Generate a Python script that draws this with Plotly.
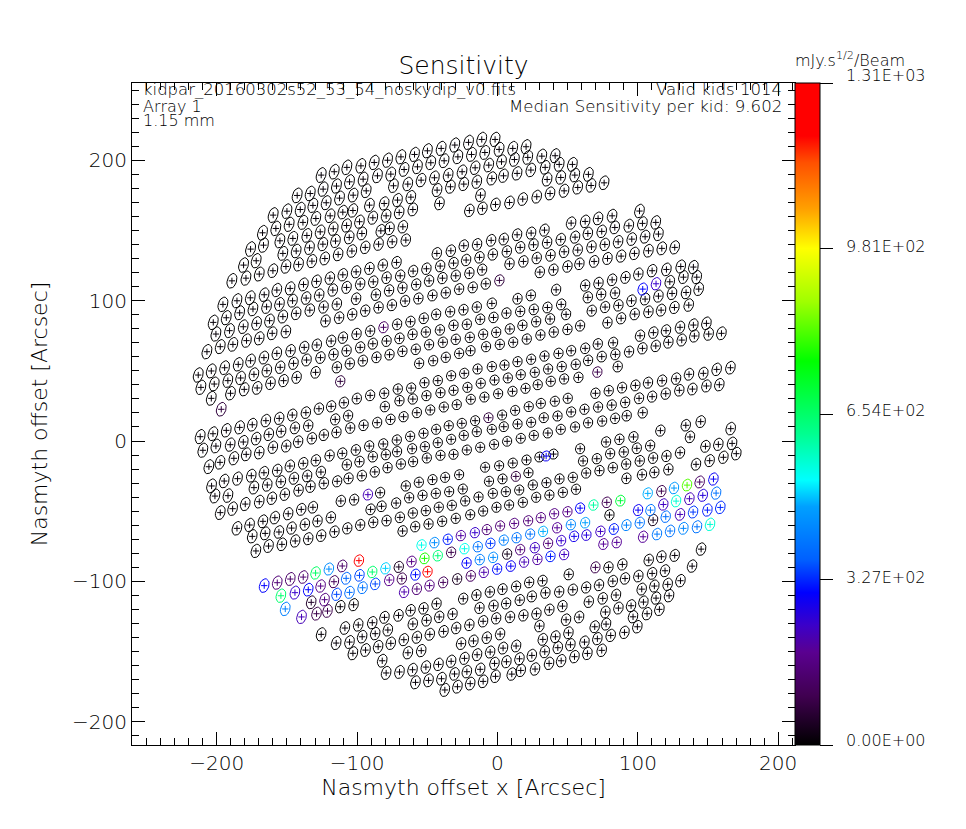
import plotly.graph_objects as go
from plotly.colors import sample_colorscale
import numpy as np

FONT = "DejaVu Sans Light, DejaVu Sans ExtraLight, DejaVu Sans"
SENS_MAX = 1310.0
colorbar_labels = ["0.00E+00", "3.27E+02", "6.54E+02", "9.81E+02", "1.31E+03"]
colorbar_ticks = [0, 327.5, 655, 982.5, 1310]

colorscale = [[0, "#000000"], [0.074, "#400050"], [0.14, "#5a0090"], [0.18, "#3c00c8"], [0.23, "#0000ff"],
              [0.28, "#0060ff"], [0.36, "#00a0ff"], [0.40, "#00ffff"], [0.47, "#00ff90"], [0.58, "#00ff00"],
              [0.67, "#a0ff00"], [0.75, "#ffff00"], [0.81, "#ffa000"], [0.88, "#ff5000"], [0.92, "#ff0000"], [1, "#ff0000"]]

# kids that read as black on the map (offset x, offset y in arcsec)
black_upper = [
(-125.6,189.4),(-116.3,191.8),(-107.3,194.9),(-97.3,196),(-87.8,198.4),(-78.3,200),(-68.8,202.4),(-59.1,204.1),(-49.9,206.7),(-40.1,208.4),(-30.4,210.8),(-20.6,212.7),(-11.2,214.8),(-1.7,214.8),
(1.2,207.7),(10.9,208.4),(20.4,209.6),(31.6,202.9),(41.1,203.2),(53.4,197),(2.9,198.9),(12.1,200.5),(21.6,202),(34,194.9),(44,197),(4.3,188.9),(14,190.6),(23.8,193),(-4,187),(35.4,186.3),(45.1,187.7),(55.1,189.4),(64.8,189.9),(76,183.9),(66.7,182),(57.2,180.6),(47.5,178.2),(37.5,176.3),(28,174),(18,172.3),(8.6,169.9),(-1.4,168.5),
(101.2,163.8),(81.7,160.4),(71.7,158.5),(62.5,156.4),(52.5,155.2),(112.8,155.7),(103.3,155),(93.6,153.3),(83.6,152.1),(74.3,149.3),(64.4,147.8),(55.3,145.2),(45.1,143.6),(33.5,150.2),(24,148.1),(14,146.9),(4.5,143.8),(-4.5,142.9),
(114.7,147.4),(105.2,145.5),(95.7,143.8),(86,141.9),(76.5,140),(67,138.3),(57.2,136),(47.5,134.8),(35.4,141.4),(25.7,139.8),(16.2,137.9),(6.7,135),(-3.3,132.9),
(126.3,137.9),(117.1,137.2),(107.6,135.5),(97.6,133.6),(88.1,131.7),(78.4,130),(68.9,127.9),(58.4,126.2),(49.9,124.3),(37.8,132.2),(28,130.3),(18.5,127.9),(8.6,126.2),(39.9,122),(30.2,120.3),
(139.6,123.9),(130.6,124.3),(120.4,122.2),(110.2,121.3),(100.4,118.9),(91.2,116.5),(81.7,114.8),(72,112.5),(62.5,110.8),(142,116.7),(132.5,116.7),(122.8,113.4),
(143.4,108.2),(134.4,105.8),(124.4,105.1),(114.7,103.2),(105.2,101.1),(95.5,99.9),(83.8,105.4),(73.9,104.4),(64.4,102.3),(136.3,96.8),(126.1,95.1),(116.6,93.2),(107.6,92),(97.8,90.4),(86.2,96.6),(76.7,95.4),(67.2,92.8),(41.8,107.7),(23.8,103.7),(14.3,101.3),(45.4,97.3),(35.6,95.1),(25.9,93.7),(16.2,92.3),(6.4,91.1),(-4,98),(48.9,90.2),
]
black_right_mid = [
(148.9,83.8),(139.6,82.6),(130.1,81),(120.1,78.6),(111.1,77.2),(101.6,75),(159.6,76.7),(150.5,76.2),(140.3,74.8),(131.3,71.9),(121.8,70.3),(112.8,67.7),(103.3,66),(93.8,63.6),(82.4,70),(71.5,69.1),(62.5,66),(52.5,64.3),(43.5,62.4),(33.5,60.5),(24,58.2),(14.3,56.5),(5,54.1),(-4,53),
(78.4,84.3),(88.1,87.4),(58.9,82.1),(49.9,79.5),(40.1,77.6),(30.6,75.5),(20.9,72.6),(11.2,70.3),(1.7,68.8),(37.5,86.9),(27.6,85),(17.8,82.4),(8.8,79.8),(-0.9,77.4),
(84,61.7),(74.3,60.1),(64.6,57.4),(55.8,54.6),(45.8,53),(36.1,51.3),(26.6,48.9),(16.6,47.2),(7.4,44.9),(-2.1,43.4),(85.7,53),(57.7,45.3),(47.5,44.2),(38,42.5),(28.7,40.1),(20,37.5),(10.7,35.4),(0.5,33.7),
(166,52.2),(156.2,51),(146.7,48.2),(136.5,47.5),(127.3,44.4),(117.3,43),(107.3,41.5),(98.3,39.6),(88.8,38),(79.3,35.8),(69.8,34),
(158.1,40.1),(148.9,39.2),(138.9,37),(129.6,36.1),(119.9,33.7),(110.2,31.6),(100.9,30.4),(91,27.5),(81.4,25.6),(71.7,24.2),(62,22.6),(52.5,20.7),(42.8,17.8),(33,16.6),(24,13.3),(14.3,12.1),(4.5,10.2),(-4,8.3),
(50.1,30.4),(40.9,28.3),(30.9,26.8),(22.3,24.5),(12.6,21.8),(3.3,18.5),
(103.5,20.2),(92.1,18),(83.8,16.1),(74.6,14.2),(64.6,13),(55.3,10),(45.1,8.3),(35.9,5.7),(25.9,4),(16.6,1.9),(6.9,-0.2),(-2.4,-2.4),
(144.8,13.8),(134.2,11.2),(116.1,7.4),(166.2,8.8),(137.2,2.9),(96.9,2.9),(86.9,1.2),(77.4,-0.7),(58.9,-5.5),
(167.2,-1.7),(157.4,-2.4),(148.2,-3.8),(108.8,-3.3),(99.3,-5.2),(90,-7.8),(80.3,-9),(70.8,-12.6),(61,-14.2),(39.9,-9.3),(29.9,-11.4),(20.7,-13.5),(10.9,-15.7),(1.2,-17.6),
(170.2,-9),(161,-11.6),(151.2,-14),(141.5,-16.6),(130.1,-8.3),(120.4,-10.7),(110.9,-12.1),(101.4,-14.2),(91.7,-16.4),(82.2,-19),(72.7,-21.1),(63.2,-22.8),(53.7,-25.9),(44.2,-27),(34.9,-29.7),(25.2,-31.3),(15.5,-34.9),(6,-36.1),(-3.3,-37.3),(3.6,-27),(22.1,-22.6),
(121.8,-20.2),(111.8,-22.3),(103,-24),(91.9,-26.6),(56,-34.4),(46.6,-36.6),(37,-38.5),(27.6,-40.1),(18.1,-43.7),(8.3,-45.6),(-2.8,88),
]
black_upper_left = [
(-142.7,174.9),(-133.4,176.3),(-124.2,179.4),(-114.7,181.6),(-105.4,184.6),(-95.7,186.5),(-85.5,188.9),(-76,190.1),(-66.5,193.4),(-57,195.3),(-47.5,198.2),(-38,199.6),(-28.2,202.4),(-18.5,204.1),(-9,205.5),
(-74.1,181.8),(-63.9,183),(-54.4,185.8),(-44.9,187.5),(-35.1,189.4),(-25.2,191.8),(-15.9,194.6),(-6.2,196.5),(-43,178.7),(-33.5,181.1),(-24,183),(-14.7,184.6),(-41.3,169.2),(-12.1,175.1),(-20,164.2),(-10.7,165.7),
(-159.8,160.9),(-150,163.7),(-140.5,164.9),(-131.5,167.8),(-122,169.7),(-112.5,173),(-102.8,175.1),(-93.5,178.2),(-91.2,168),(-80.7,169.2),(-71.2,171.6),(-61.7,173.7),
(-167.4,148.3),(-157.9,151.4),(-148.4,154.3),(-138.6,155.7),(-129.4,158.5),(-119.2,160.4),(-110.2,163),(-103,164.2),
(-175.9,136.7),(-166.7,139.5),(-155,142.6),(-145.8,144.3),(-135.8,146.4),(-126.3,149),(-117,151.2),(-107.5,153.5),(-98.3,156.2),(-88.8,159),(-79.3,160.4),(-70,162.8),(-60.3,164.9),
(-152.9,133.6),(-143.4,135.3),(-133.9,137.6),(-124.4,140.2),(-115.4,142.4),(-105.6,145),(-96.6,147.8),(-83.1,149.7),(-76.9,151.4),(-67.4,152.6),
(-189.2,114.1),(-179.2,116),(-169.7,118.9),(-160,121.3),(-150.7,124.3),(-141.7,125.8),(-132.2,128.1),(-123,130),(-113.5,132.9),(-103.7,135.3),(-94.2,137.9),(-84.7,140.2),(-75,141.9),(-65.3,143.1),(-180.9,125.3),(-171.9,128.4),
(-43.2,133.6),(-33.2,135.5),(-24,139.1),(-14.5,140),(-12.8,130.8),(-22.3,128.9),(-31.3,126.7),(-40.8,124.6),(-50.6,122.7),(-60.1,121),(-71.9,127.2),(-81.7,125.3),(-91.2,122.9),(-100.7,120.5),(-110.2,118.4),(-119.4,116),(-128.9,113.7),(-138.2,111.5),(-147.7,108.7),(-157.2,107.5),(-166.2,104.2),(-176.1,102),(-185.6,99.9),(-195.6,97.3),
(-10.9,122),(-20,119.6),(-29.7,117.7),(-39.2,116),(-48.7,114.1),(-57.9,111.5),(-67.7,109.1),(-77.2,107.2),(-86.6,104.2),(-69.3,117.7),(-79,116.3),(-88.5,113.4),(-97.8,111.8),(-107.5,109.4),(-117.3,107.5),(-127,103.9),(-136.3,101.8),(-146,99.9),(-155.3,97.5),(-164.5,95.6),(-174.2,94),(-183.7,91.3),
(-8.3,112),(-17.6,109.4),(-27.3,108.2),(-36.8,105.6),(-46.3,103.7),(-56.3,101.5),(-65.8,99.7),(-75.2,96.8),(-84.7,95.1),(-94.2,92.8),(-100.7,101.3),(-114.4,97.5),(-123.9,95.4),(-133.7,93.2),(-143.4,90.9),(-14.7,95.4),(-24.2,93.5),(-33.7,92.1),(-43.7,90.2),
]
black_left_mid = [
(-202.5,84.5),(-193.2,87.8),(-162.4,85.7),(-152.9,88.6),(-122.5,85.5),(-112.8,87.8),(-103.5,90.2),(-200.6,76.2),(-190.9,78.6),(-181.1,81.4),(-171.6,83.8),(-71.5,83.1),(-62,85),(-52.5,87.4),
(-160.5,76.7),(-150.7,77.9),(-169.7,73.1),(-178.8,71.5),(-188.5,68.8),(-197.5,67.2),(-207,63.6),
(-100.4,76.2),(-90.7,78.3),(-110.1,73.6),(-118.5,71.2),(-128.7,68.4),(-137.7,66.7),(-147.4,64.3),(-157.2,62.4),(-166.4,59.4),(-175.9,57.2),(-184.7,54.6),(-194.4,52.2),(-203.9,49.9),(-213.2,47),
(-12.3,86.7),(-21.8,83.1),(-31.3,82.4),(-41,79.1),(-51,77.6),(-60.5,76),(-10.2,76),(-19.7,73.8),(-29.7,72.4),
(-69.8,73.1),(-79,71.2),(-88.8,69.3),(-97.8,66.7),(-107.5,64.3),(-116.8,61.7),(-126.1,59.4),(-136,57.7),(-145.3,55.3),(-154.8,52.5),(-164.3,50.1),(-173.5,47.5),(-183,44.9),(-192.1,43),(-201.8,40.6),(-211.3,38.2),
(-38.9,70.3),(-48.7,68.6),(-58.2,65.3),(-67.7,63.9),(-76.9,61.5),(-86.2,59.6),(-95.9,57.2),(-105.2,55.1),(-114.4,52.5),(-129.6,48.9),(-143.1,45.3),(-152.4,43),(-161.7,41.1),(-171.2,37.8),(-180.4,36.8),(-190.2,34),(-203.9,30.4),
(-8.1,67.2),(-19.2,64.3),(-27.3,62.4),(-36.8,59.6),(-45.8,57.2),(-55.8,55.3),(-14.2,51.3),(-23.7,48.2),(-33,46.5),(-42.5,43),(-52,41.5),(-61.5,37.7),(-71,37),(-80.7,34),(-90.7,32.5),(-100.2,30.2),(-109.4,27.3),(-118.5,24.7),(-127.2,23),(-136.5,20.2),(-146.2,18.5),(-155.5,16.1),(-165,14.5),(-174.7,11.6),(-183.7,9.7),(-193.2,7.6),(-202.7,5.2),(-211.8,3.1),
(-11.9,41.1),(-21.4,38.2),(-31.3,36.1),(-40.6,34.4),(-50.6,32.3),(-60.3,29.9),(-69.8,28.7),(-80.2,24.5),(-106.4,18),(-115.6,15.4),(-19,29.7),(-9.3,31.3),
(-29,25.9),(-38.2,24.2),(-47.9,22.1),(-57.4,20.2),(-66.9,17.3),(-76.2,15.4),(-85.7,13.1),(-95.4,11.2),(-104.9,9.3),(-114.7,6.2),(-123.7,4.3),(-132.2,1.9),(-142,-0.5),(-150.5,-3.6),(-160,-4.5),(-169.7,-8.3),(-179,-9.5),(-187.8,-12.3),(-197.7,-15.2),(-205.6,-18.3),
(-134.8,10.9),(-144.3,9.3),(-154.1,6.9),(-162.9,4.7),(-171.9,1.7),(-181.1,-0.7),(-190.4,-2.6),(-200.6,-3.6),(-209.9,-6.6),
(-15.9,14.5),(-25.4,12.6),(-34.7,10.9),(-43.7,8.3),(-52.7,5.5),(-62.2,3.3),(-71.7,0.7),(-81.4,-2.1),(-91.4,-3.6),(-100.9,-6.4),(-110.6,-8.8),(-119.6,-10.4),(-129.4,-13.8),(-138.4,-15.9),(-147.9,-17.8),(-156.9,-20.9),(-166.4,-22.6),(-175.4,-24.7),(-185.2,-26.8),(-194.7,-28.5),(-203.7,-32),
(-14.7,6.6),(-24,4),(-33,1.2),(-42.5,-1.2),(-51.7,-4),(-60.8,-5.5),(-71.5,-7.6),(-79.5,-9.7),(-88.8,-11.2),(-98.3,-14.7),(-107.3,-16.9),(-125.8,-22.1),(-135.6,-24.9),(-145,-26.6),(-154.3,-29),(-164,-31.3),(-173.5,-33.2),
(-12.3,-4.5),(-21.8,-6.4),(-31.3,-9.5),(-40.6,-10.2),(-50.3,-12.1),(-60.1,-14.7),(-68.8,-16.4),(-78.3,-19),(-87.4,-22),(-96.6,-24.7),(-106.1,-26.6),(-114.2,-28.7),(-123.7,-30.1),(-133.2,-32.5),(-141.7,-35.1),(-151.5,-38),(-160.7,-40.8),
(-8.8,-18.7),(-27.3,-24),(-37.3,-25.9),(-46.3,-27.5),(-56,-29.4),(-65.3,-32),(-83.6,-36.8),(-24.7,-34.2),(-34.4,-36.1),(-43.9,-37.3),(-53.4,-38.7),(-62.9,-40.4),(-13.5,-39.9),(-6,-28.7),
]
black_lower_left = [
(-192,-38.9),(-188.7,-48.2),(-179.7,-44.9),(-169.7,-43.2),(-201.3,-39.2),(-197.5,-51),(-111.6,-42.7),(-102.1,-41.8),(-90.4,-48.7),(-82.6,-46.5),(-72.2,-44.2),(-23,-42.7),
(-185.6,-62.2),(-176.6,-59.8),(-167.1,-57.2),(-158.6,-54.6),(-149.1,-51.8),(-139.8,-48.7),(-131.5,-47.2),(-118.7,-54.4),(-128.2,-57),(-137.2,-59.4),(-146.7,-62),(-155.7,-64.8),(-165.5,-65.8),(-174.7,-67.9),
(-172.1,-78.3),(-163.1,-74.8),(-153.6,-73.6),(-144.1,-71.2),(-134.8,-69.6),(-125.6,-67.4),(-116.1,-64.6),(-107,-62.2),(-97.8,-59.8),(-88.5,-57.9),(-79,-56.7),(-69.5,-54.4),(-60.3,-51.3),(-51,-49.6),(-41.8,-47.2),(-32.5,-45.8),
(-67.6,-64.1),(-58.6,-61),(-49.1,-59.1),(-39.4,-57.2),(-29.7,-55.1),(-19.4,-52.5),(-10.2,-49.9),(-0.7,-47.2),
(-112,-118),(-102.5,-116.6),
(-24.4,-112.3),(-15,-109.7),(-5.4,-107.5),(-43.4,-115.9),(-52.7,-119.2),(-61.9,-120.6),(-70.5,-124.2),(-80.5,-125.6),(-89.2,-129.4),(-99.2,-131),(-108.7,-133.2),(-125.6,-137.7),(-78.1,-134.6),(-87.1,-137.2),(-96.4,-139.4),(-105.4,-143.2),(-114.9,-143.9),
(-60.3,-130.3),(-50.5,-127.7),(-41.5,-125.3),(-32,-123.2),(-20,-131),(-29.4,-133.2),(-38.4,-135.6),(-48.2,-137.7),(-57.4,-139.8),(-66.7,-141.5),(-76,-144.1),(-85,-146.5),(-94,-148.9),(-103,-151.2),
(-12.8,-118.9),(-2.8,-117.3),(-0.9,-126.3),(-10.2,-128.4),(-7.6,-140.1),(-17.1,-142.4),(-25.9,-144.3),(-54.3,-149.3),(-63.8,-150.8),(-82.1,-156.5),(-79.3,-165.2),(-69.8,-164.5),(-60.5,-162.9),(-51,-161),(-42,-159.1),(-33,-156.9),(-23.5,-154.8),(-14.5,-152.2),(-5.2,-150.3),(-2.1,-158.4),(-1.4,-167.6),(-12.3,-162.6),(-21.8,-164.3),(-30.6,-165.9),(-39.9,-169.3),(-49.1,-170.5),(-58.4,-171.9),(-10.2,-171.2),(-19.4,-172.8),(-28.5,-175),(-37.5,-177.3),
]
black_lower_right = [
(79.8,-52.7),(145.1,-77),(126.3,-81.5),(116.8,-82.4),(107.8,-84.8),(138.7,-89.1),(89,-87.9),(79.1,-90),(50.8,-95),(119.4,-92.4),(110.2,-94.3),(100.4,-96.2),(90.9,-97.9),(82.2,-99.8),(130.4,-99.5),(121.3,-102.1),(111.8,-103.3),(102.8,-105.5),(72.4,-102.6),(63.2,-104.3),(53.7,-105.9),(44,-107.4),(34.2,-108.1),(24.5,-110.7),(13.3,-103.6),(3.6,-105.5),(22.6,-100.7),(32.1,-99.5),
(122.3,-110.2),(113,-111.9),(104,-114.7),(84.5,-109.7),(75,-112.1),(65.1,-114.5),(46.3,-117.6),(37,-120.2),(27.8,-123),(18.5,-124.2),(9,-125.4),(15.9,-113.3),(6.2,-115.7),
(115.4,-119.9),(106.6,-123),(96.6,-125.2),(95.2,-117.3),(86.2,-119),(76.9,-121.8),(58.2,-125.4),(48.9,-127.3),(77.4,-130.4),(69.3,-132.3),(99.7,-132.3),(90.5,-136.3),(80.7,-138.5),(71.2,-140.8),(62,-143.2),(52,-145.1),(41.3,-139.4),(32.3,-141.3),(50.6,-136.6),(29.9,-131.8),(1.9,-137.5),
(13.3,-146),(4,-147.5),(43,-147.2),(33.7,-150.1),(24.5,-152.7),(15.7,-155.1),(6.4,-157.2),(74.3,-149.1),(64.1,-151.3),(54.9,-153.6),(45.4,-156.5),(36.8,-158.4),(26.8,-162.4),(16.6,-163.4),(10.2,-166),
]
black_sens = 9.602  # median sensitivity per kid

# kids with a visible colour: offset x, offset y, sensitivity
color_x = [1.4,-81.2,113,103.5,-196.8,-112,71.2,-6.4,13.1,34.7,-92.3,
-166.2,-156.9,-147.6,-138.4,-129.6,-120.1,-110.6,-98.7,-89.2,-79.8,-70.3,-61.2,-52,-42.5,-33,-23.5,-14,-5,-54.1,-44.9,-35.4,-26.1,-16.1,-7.6,1.9,
-154.3,-144.3,-134.8,-126,-116.5,-107.8,-98.3,-87.1,-96.1,-105.4,-114.6,-123.2,-132.7,-151.2,-139.6,-128.9,-121.1,
-77.1,-68.1,-58.4,-49.8,-66.5,-57.4,-48.4,-38.7,-28.7,-19,-9.7,-0.2,-22,-12.6,-3.1,
58.9,68.4,77.9,87.6,49.9,40.4,30.9,21.9,11.9,100.2,109,118.2,127.3,136.8,146.3,155.8,107.1,116.8,125.8,135.1,144.1,153.9,
158.8,149.6,139.4,130.1,119.9,110.9,101.4,91.9,82.9,73.4,62.5,52.3,42.5,32.5,23.3,13.6,4.5,
151.5,142.2,132.5,123,113.7,103.8,63.4,54.6,45.4,36.1,26.6,16.2,6.9,85,75.5,47.5,37.8,28.5,19,9.5,69.8]
color_y = [114.4,81,112,108.2,22.6,42.5,49.1,16.6,-25.2,-10.7,-38.2,
-103,-100.9,-98.3,-96.9,-94,-91.2,-89,-85.2,-93.3,-90.7,-89.7,-85.9,-83.6,-81.7,-79.3,-76.7,-75.3,-72.9,-74.1,-72.4,-70,-67.4,-65.3,-63.1,-60.5,
-110.2,-108,-105.9,-103.3,-100.2,-97.8,-95.7,-101.8,-104.5,-107.8,-109.2,-113,-114.9,-119.6,-125.3,-123,-121.1,
-99,-98,-95.2,-93.1,-107.5,-105.4,-103,-100.7,-98.3,-96.1,-93.5,-91.2,-86.9,-84.5,-82.9,
-47.8,-45.6,-43.7,-42.5,-50.4,-51.8,-54.6,-56.8,-58.7,-49.2,-49.2,-45.2,-42.8,-41.1,-38.7,-37.1,-37.3,-35.7,-33.5,-31.4,-29.2,-27.1,
-47.3,-49.2,-50.6,-52.3,-53.9,-56.3,-58.2,-59.9,-62.7,-64.4,-58.2,-59.6,-61.8,-64.4,-66.3,-68.9,-70.6,
-59.4,-61.1,-62.2,-64.1,-66.3,-68.2,-67,-67.9,-71,-72.9,-76,-77.4,-80.5,-72.2,-73.4,-80.8,-82.2,-84.3,-86.2,-89.1,-90]
color_sens = [70,120,240,300,70,70,90,70,70,290,220,
300,150,130,140,660,440,130,1250,650,500,40,170,780,640,90,540,400,340,540,440,320,200,240,150,150,
650,240,300,170,110,380,350,350,400,390,350,160,50,420,220,90,90,
180,90,310,1280,210,150,160,110,40,120,210,310,300,420,440,
300,600,100,700,170,170,160,150,160,290,400,230,560,220,260,400,480,90,460,820,120,290,
330,320,340,220,390,30,400,420,320,230,470,430,190,480,400,400,420,
560,400,430,400,410,190,260,280,240,150,230,150,30,190,190,230,320,200,220,290,90]

black = black_upper + black_right_mid + black_upper_left + black_left_mid + black_lower_left + black_lower_right
black_x = [p[0] for p in black]
black_y = [p[1] for p in black]

kid_x = np.array(black_x + color_x, float)
kid_y = np.array(black_y + color_y, float)
kid_sens = np.array([black_sens] * len(black_x) + color_sens, float)

# ellipse outline of a kid's beam: style constants, elongating with the distance from the centre
THETA = np.linspace(0, 2 * np.pi, 21)
TILT = np.radians(18)

def outlines(xs, ys):
    ox, oy = [], []
    for x0, y0 in zip(xs, ys):
        r = np.hypot(x0, y0) / 200
        major, minor = 3.6 + 1.5 * r ** 2, 3.3
        u, v = minor * np.cos(THETA), major * np.sin(THETA)
        ox += list(x0 + u * np.cos(TILT) + v * np.sin(TILT)) + [None]
        oy += list(y0 - u * np.sin(TILT) + v * np.cos(TILT)) + [None]
    return ox, oy

fig = go.Figure()
for s in sorted(set(kid_sens)):
    mask = kid_sens == s
    ox, oy = outlines(kid_x[mask], kid_y[mask])
    col = sample_colorscale(colorscale, [s / SENS_MAX])[0] if s > black_sens else "#000000"
    fig.add_trace(go.Scatter(x=ox, y=oy, mode="lines", line=dict(color=col, width=1), hoverinfo="skip", showlegend=False))

fig.add_trace(go.Scatter(
    x=kid_x, y=kid_y, mode="markers", showlegend=False,
    marker=dict(symbol="cross-thin-open", size=4.5, color=kid_sens, cmin=0, cmax=SENS_MAX,
                colorscale=colorscale, line=dict(width=1),
                colorbar=dict(x=1.0, xanchor="left", xpad=0, ypad=0, y=0.5, yanchor="middle", len=1, lenmode="fraction",
                              thickness=25, thicknessmode="pixels", outlinecolor="#000", outlinewidth=1,
                              tickmode="array", tickvals=colorbar_ticks, ticks="outside", ticklen=13,
                              tickcolor="#000", tickwidth=1, showticklabels=False))))

axis_common = dict(showgrid=False, zeroline=False, showline=True, linecolor="#000", linewidth=1, mirror="ticks",
                   ticks="inside", ticklen=13, tickwidth=1, tickcolor="#000", dtick=100,
                   minor=dict(ticks="inside", ticklen=7, dtick=10, tickwidth=1, tickcolor="#000", showgrid=False),
                   tickfont=dict(family=FONT, size=20, color="#000"))

# the page's own 8 px body margin is taken out of the left and top margins
fig.update_layout(
    width=966, height=829, autosize=False, plot_bgcolor="#fff", paper_bgcolor="#fff",
    margin=dict(l=124, r=179, t=75, b=92),
    title=dict(text="Sensitivity", x=0.5, xref="paper", xanchor="center", y=0.931, yanchor="middle",
               font=dict(family=FONT, size=25, color="#000")),
    xaxis=dict(axis_common, range=[-260.4, 212],
               title=dict(text="Nasmyth offset x [Arcsec]", font=dict(family=FONT, size=22, color="#000"), standoff=0)),
    yaxis=dict(axis_common, range=[-216.5, 255],
               title=dict(text="Nasmyth offset [Arcsec]", font=dict(family=FONT, size=22, color="#000"), standoff=18)),
)

def note(text, x, y, anchor="left", size=16):
    fig.add_annotation(text=text, x=x, y=y, xref="paper", yref="paper", xanchor=anchor, yanchor="middle",
                       showarrow=False, align=anchor, font=dict(family=FONT, size=size, color="#000"))

left = (141 - 132) / 663
right = (784 - 132) / 663
py = lambda px: (745 - px) / 662
note("kidpar_20160302s52_53_54_noskydip_v0.fits", left, py(90), "left", 16.5)
note("Array 1", left, py(106))
note("1.15 mm", left, py(120))
note("Valid kids 1014", right, py(90), "right", 16.6)
note("Median Sensitivity per kid: 9.602", right, py(106), "right", 16.6)
note("mJy.s<sup>1/2</sup>/Beam", (793 - 132) / 663, py(60), "left", 16)
for label, label_px in zip(colorbar_labels, [740, 577, 410, 246, 76]):
    note(label, (844 - 132) / 663, py(label_px), "left", 16)

fig.write_html("out.html")
